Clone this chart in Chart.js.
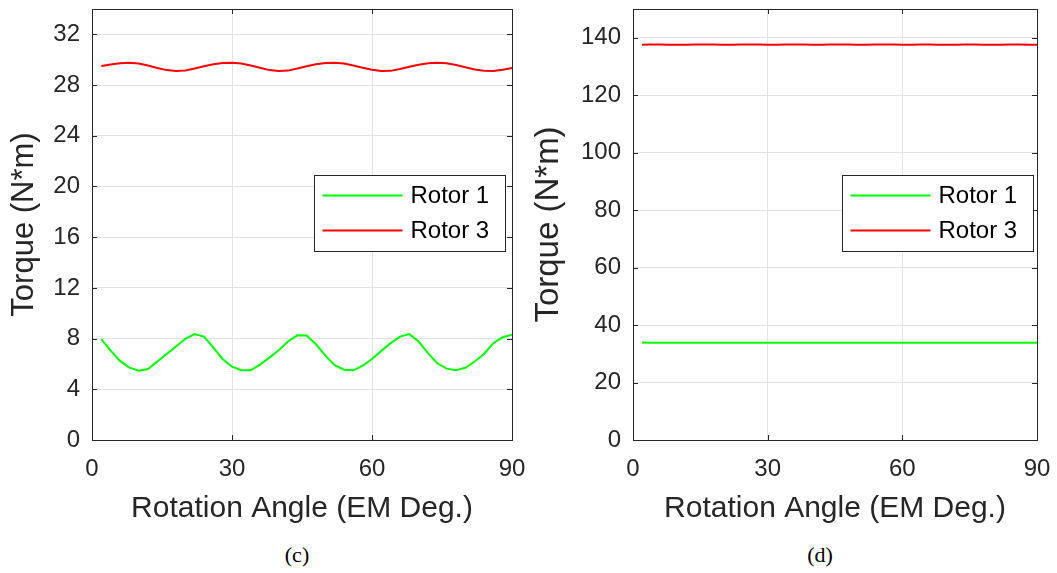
<!DOCTYPE html>
<html>
<head>
<meta charset="utf-8">
<script src="https://cdn.jsdelivr.net/npm/chart.js@4.4.1/dist/chart.umd.min.js"></script>
<style>
  body { margin: 0; background: #fff; width: 1057px; height: 573px; position: relative; overflow: hidden; }
  canvas { position: absolute; top: 0; }
  #chartC { left: 0; }
  #chartD { left: 525px; }
  .sub { position: absolute; top: 542px; font: 22px "Liberation Serif", "Times New Roman", serif; color: #000; transform: translateX(-50%); }
</style>
</head>
<body>
<canvas id="chartC" width="525" height="530"></canvas>
<canvas id="chartD" width="525" height="530"></canvas>
<div class="sub" style="left:297px">(c)</div>
<div class="sub" style="left:820px">(d)</div>
<script>
// rotation angle (EM deg.), same sampling for both panels
const angles = [2, 4, 6, 8, 10, 12, 14, 16, 18, 20, 22, 24, 26, 28, 30, 32, 34, 36, 38, 40, 42, 44, 46,
  48, 50, 52, 54, 56, 58, 60, 62, 64, 66, 68, 70, 72, 74, 76, 78, 80, 82, 84, 86, 88, 90];

// panel (c)
const rotor1C = [7.95, 7.05, 6.24, 5.71, 5.47, 5.6, 6.19, 6.79, 7.37, 7.98, 8.35, 8.16, 7.29, 6.39, 5.78,
  5.5, 5.5, 5.95, 6.5, 7.08, 7.77, 8.27, 8.24, 7.55, 6.66, 5.9, 5.55, 5.5, 5.86, 6.39, 7.03, 7.64, 8.16,
  8.35, 7.77, 6.85, 6.05, 5.63, 5.5, 5.7, 6.19, 6.79, 7.64, 8.11, 8.3];
const rotor3C = [29.5, 29.62, 29.72, 29.76, 29.7, 29.55, 29.35, 29.18, 29.1, 29.15, 29.3, 29.48, 29.64,
  29.74, 29.76, 29.7, 29.55, 29.36, 29.18, 29.1, 29.14, 29.3, 29.48, 29.64, 29.74, 29.76, 29.7, 29.55,
  29.36, 29.2, 29.1, 29.12, 29.26, 29.44, 29.6, 29.72, 29.76, 29.72, 29.58, 29.4, 29.22, 29.12, 29.1,
  29.2, 29.34];

// panel (d)
const rotor1D = [33.9, 33.88, 33.85, 33.84, 33.83, 33.83, 33.84, 33.85, 33.84, 33.83, 33.83, 33.84, 33.85,
  33.84, 33.83, 33.83, 33.84, 33.86, 33.88, 33.87, 33.85, 33.84, 33.86, 33.88, 33.87, 33.85, 33.84, 33.85,
  33.87, 33.88, 33.86, 33.84, 33.85, 33.87, 33.88, 33.86, 33.84, 33.85, 33.86, 33.85, 33.84, 33.85, 33.86,
  33.85, 33.86];
const rotor3D = [137.6, 137.62, 137.65, 137.6, 137.56, 137.58, 137.63, 137.66, 137.62, 137.57, 137.58,
  137.63, 137.66, 137.62, 137.57, 137.58, 137.64, 137.66, 137.61, 137.57, 137.59, 137.64, 137.66, 137.61,
  137.57, 137.59, 137.64, 137.66, 137.61, 137.57, 137.6, 137.65, 137.66, 137.6, 137.57, 137.6, 137.65,
  137.65, 137.6, 137.57, 137.6, 137.65, 137.65, 137.6, 137.6];

const xTicks = [0, 30, 60, 90];
const yTicksC = [0, 4, 8, 12, 16, 20, 24, 28, 32];
const yTicksD = [0, 20, 40, 60, 80, 100, 120, 140];
const seriesNames = ['Rotor 1', 'Rotor 3'];
const seriesColors = ['#00ff00', '#ff0000'];

const FONT = '"Liberation Sans", Arial, Helvetica, sans-serif';
const AXIS = '#262626';

// box round the plot, MATLAB style ticks pointing inwards
const boxPlugin = {
  id: 'box',
  afterDraw(chart) {
    const { ctx, chartArea: a, scales } = chart;
    ctx.save();
    ctx.strokeStyle = AXIS;
    ctx.lineWidth = 1;
    ctx.beginPath();
    scales.x.ticks.forEach(t => {
      const px = Math.round(scales.x.getPixelForValue(t.value)) + 0.5;
      ctx.moveTo(px, a.bottom); ctx.lineTo(px, a.bottom - 5);
      ctx.moveTo(px, a.top); ctx.lineTo(px, a.top + 5);
    });
    scales.y.ticks.forEach(t => {
      const py = Math.round(scales.y.getPixelForValue(t.value)) + 0.5;
      ctx.moveTo(a.left, py); ctx.lineTo(a.left + 5, py);
      ctx.moveTo(a.right, py); ctx.lineTo(a.right - 5, py);
    });
    ctx.stroke();
    ctx.strokeRect(Math.round(a.left) + 0.5, Math.round(a.top) + 0.5,
      Math.round(a.right - a.left), Math.round(a.bottom - a.top));
    ctx.restore();
  }
};

// legend box inside the plot
const legendBoxPlugin = {
  id: 'legendBox',
  afterDraw(chart, args, opts) {
    const { ctx, chartArea: a } = chart;
    const w = 191, h = 76;
    const left = Math.round(a.right - opts.inset - w) + 0.5;
    const top = opts.top + 0.5;
    ctx.save();
    ctx.fillStyle = '#fff';
    ctx.fillRect(left, top, w, h);
    ctx.strokeStyle = AXIS;
    ctx.lineWidth = 1;
    ctx.strokeRect(left, top, w, h);
    ctx.font = '24px ' + FONT;
    ctx.textBaseline = 'middle';
    chart.data.datasets.forEach((ds, i) => {
      const y = top + 20 + i * 35;
      ctx.strokeStyle = ds.borderColor;
      ctx.lineWidth = 2;
      ctx.beginPath();
      ctx.moveTo(left + 8, y);
      ctx.lineTo(left + 88, y);
      ctx.stroke();
      ctx.fillStyle = '#000';
      ctx.fillText(ds.label, left + 96, y + 1);
    });
    ctx.restore();
  }
};

// no extra room for labels hanging over the plot ends
const noOverhang = s => { s.paddingTop = 0; s.paddingBottom = 0; s.paddingLeft = 0; s.paddingRight = 0; };

function makeChart(id, r1, r3, yMax, yTicks, yWidth, legendInset, yTitleSize, yTitlePad) {
  return new Chart(document.getElementById(id), {
    type: 'line',
    data: {
      datasets: [r1, r3].map((vals, i) => ({
        label: seriesNames[i],
        data: angles.map((x, k) => ({ x, y: vals[k] })),
        borderColor: seriesColors[i],
        borderWidth: 2,
        pointRadius: 0,
        tension: 0,
        fill: false
      }))
    },
    options: {
      responsive: false,
      animation: false,
      devicePixelRatio: 1,
      layout: { padding: { top: 9, right: 13, left: 0, bottom: 0 } },
      plugins: {
        legend: { display: false },
        tooltip: { enabled: false },
        legendBox: { inset: legendInset, top: 175 }
      },
      scales: {
        x: {
          type: 'linear',
          min: 0,
          max: 90,
          afterBuildTicks: s => { s.ticks = xTicks.map(v => ({ value: v })); },
          afterFit: s => { s.height = 90; noOverhang(s); },
          grid: { color: '#e3e3e3', drawTicks: false },
          border: { display: false },
          ticks: { color: AXIS, font: { family: FONT, size: 24 }, padding: 15, maxRotation: 0 },
          title: {
            display: true,
            text: 'Rotation Angle (EM Deg.)',
            color: AXIS,
            font: { family: FONT, size: 30 },
            padding: { top: 0, bottom: 3 }
          }
        },
        y: {
          min: 0,
          max: yMax,
          afterBuildTicks: s => { s.ticks = yTicks.map(v => ({ value: v })); },
          afterFit: s => { s.width = yWidth; noOverhang(s); },
          grid: { color: '#e3e3e3', drawTicks: false },
          border: { display: false },
          ticks: { color: AXIS, font: { family: FONT, size: 24 }, padding: 12 },
          title: {
            display: true,
            text: 'Torque (N*m)',
            color: AXIS,
            font: { family: FONT, size: yTitleSize },
            padding: { top: yTitlePad, bottom: 0 }
          }
        }
      }
    },
    plugins: [boxPlugin, legendBoxPlugin]
  });
}

makeChart('chartC', rotor1C, rotor3C, 34, yTicksC, 92, 7, 31, 6);
makeChart('chartD', rotor1D, rotor3D, 150, yTicksD, 108, 4, 33, 4);
</script>
</body>
</html>
